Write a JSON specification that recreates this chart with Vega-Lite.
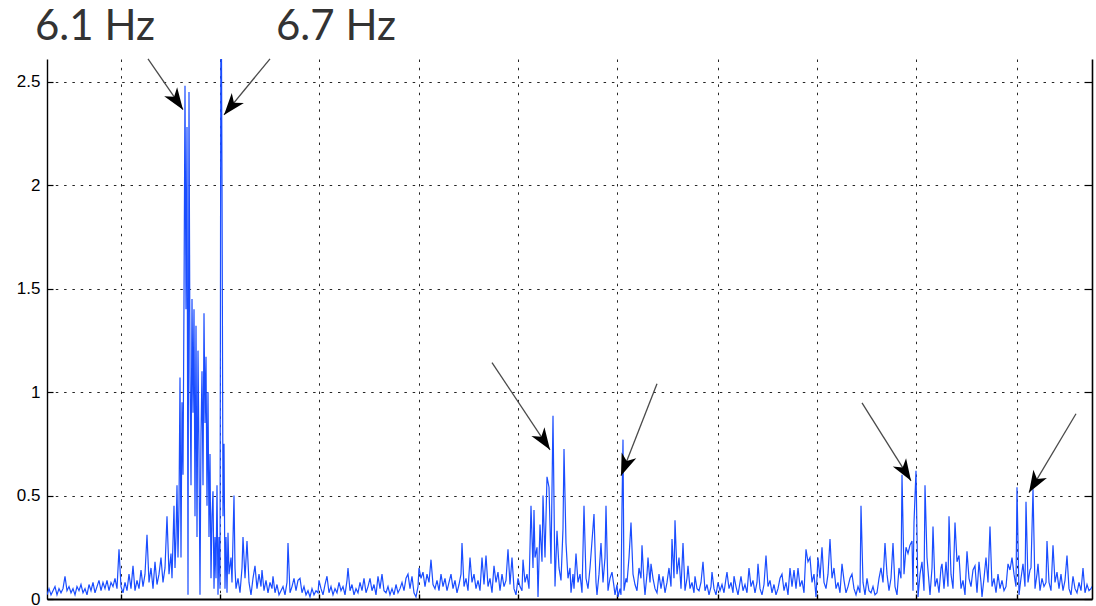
{
"$schema":"https://vega.github.io/schema/vega-lite/v6.json",
"width":1045,"height":540,
"autosize":{"type":"none"},
"padding":{"left":47,"top":59,"right":4,"bottom":7},
"background":"white",
"config":{"view":{"stroke":null}},
"datasets":{
"spectrum":[
{"f":0.25,"a":0.02},{"f":0.27,"a":0.05},{"f":0.29,"a":0.02},{"f":0.31,"a":0.04},{"f":0.33,"a":0.06},{"f":0.35,"a":0.02},{"f":0.37,"a":0.05},{"f":0.39,"a":0.03},{"f":0.41,"a":0.05},{"f":0.43,"a":0.11},{"f":0.45,"a":0.04},{"f":0.47,"a":0.06},{"f":0.49,"a":0.03},{"f":0.51,"a":0.05},{"f":0.53,"a":0.02},{"f":0.55,"a":0.06},{"f":0.57,"a":0.04},{"f":0.59,"a":0.07},{"f":0.61,"a":0.03},{"f":0.63,"a":0.05},{"f":0.65,"a":0.02},{"f":0.67,"a":0.07},{"f":0.69,"a":0.04},{"f":0.71,"a":0.08},{"f":0.73,"a":0.03},{"f":0.75,"a":0.06},{"f":0.77,"a":0.09},{"f":0.79,"a":0.04},{"f":0.81,"a":0.08},{"f":0.83,"a":0.05},{"f":0.85,"a":0.09},{"f":0.87,"a":0.04},{"f":0.89,"a":0.08},{"f":0.91,"a":0.06},{"f":0.93,"a":0.10},{"f":0.95,"a":0.05},{"f":0.97,"a":0.24},{"f":0.99,"a":0.06},
{"f":1.01,"a":0.03},{"f":1.03,"a":0.08},{"f":1.05,"a":0.04},{"f":1.07,"a":0.12},{"f":1.09,"a":0.05},{"f":1.11,"a":0.16},{"f":1.13,"a":0.04},{"f":1.15,"a":0.09},{"f":1.17,"a":0.05},{"f":1.19,"a":0.14},{"f":1.21,"a":0.06},{"f":1.23,"a":0.12},{"f":1.25,"a":0.31},{"f":1.27,"a":0.08},{"f":1.29,"a":0.15},{"f":1.31,"a":0.05},{"f":1.33,"a":0.18},{"f":1.35,"a":0.07},{"f":1.37,"a":0.12},{"f":1.39,"a":0.20},{"f":1.41,"a":0.08},{"f":1.43,"a":0.15},{"f":1.45,"a":0.40},{"f":1.47,"a":0.12},{"f":1.49,"a":0.22},{"f":1.50,"a":0.10},{"f":1.52,"a":0.45},{"f":1.53,"a":0.15},{"f":1.54,"a":0.30},{"f":1.55,"a":0.55},{"f":1.56,"a":0.20},{"f":1.57,"a":0.45},{"f":1.58,"a":1.07},{"f":1.59,"a":0.20},{"f":1.60,"a":0.95},{"f":1.61,"a":0.60},{"f":1.62,"a":1.45},{"f":1.63,"a":2.48},{"f":1.64,"a":1.40},{"f":1.65,"a":2.28},{"f":1.66,"a":0.02},{"f":1.67,"a":2.45},{"f":1.68,"a":1.10},{"f":1.69,"a":0.55},{"f":1.70,"a":1.45},{"f":1.71,"a":0.90},{"f":1.72,"a":1.40},{"f":1.73,"a":0.40},{"f":1.74,"a":1.32},{"f":1.75,"a":0.30},{"f":1.76,"a":1.20},{"f":1.77,"a":0.70},{"f":1.78,"a":0.02},{"f":1.79,"a":0.80},{"f":1.80,"a":1.10},{"f":1.81,"a":0.55},{"f":1.82,"a":1.38},{"f":1.83,"a":0.85},{"f":1.84,"a":1.17},{"f":1.85,"a":0.45},{"f":1.86,"a":1.00},{"f":1.87,"a":0.30},{"f":1.88,"a":0.70},{"f":1.89,"a":0.10},{"f":1.90,"a":0.40},{"f":1.91,"a":0.52},{"f":1.92,"a":0.05},{"f":1.93,"a":0.30},{"f":1.94,"a":0.10},{"f":1.95,"a":0.55},{"f":1.96,"a":0.02},{"f":1.97,"a":0.30},{"f":1.98,"a":0.05},{"f":1.99,"a":3.2},{"f":2.00,"a":2.03},{"f":2.01,"a":0.40},{"f":2.02,"a":0.75},{"f":2.03,"a":0.05},{"f":2.04,"a":0.30},{"f":2.05,"a":0.03},
{"f":2.06,"a":0.32},{"f":2.07,"a":0.12},{"f":2.09,"a":0.20},{"f":2.10,"a":0.08},{"f":2.12,"a":0.50},{"f":2.13,"a":0.15},{"f":2.14,"a":0.05},{"f":2.16,"a":0.10},{"f":2.18,"a":0.03},{"f":2.20,"a":0.15},{"f":2.21,"a":0.30},{"f":2.23,"a":0.10},{"f":2.25,"a":0.28},{"f":2.27,"a":0.08},{"f":2.29,"a":0.02},{"f":2.31,"a":0.10},{"f":2.33,"a":0.16},{"f":2.35,"a":0.05},{"f":2.37,"a":0.12},{"f":2.39,"a":0.06},{"f":2.40,"a":0.14},{"f":2.42,"a":0.04},{"f":2.44,"a":0.09},{"f":2.46,"a":0.03},{"f":2.48,"a":0.08},{"f":2.50,"a":0.05},{"f":2.51,"a":0.11},{"f":2.53,"a":0.03},{"f":2.55,"a":0.07},{"f":2.57,"a":0.02},{"f":2.59,"a":0.04},{"f":2.61,"a":0.06},{"f":2.63,"a":0.02},{"f":2.65,"a":0.08},{"f":2.66,"a":0.27},{"f":2.68,"a":0.03},{"f":2.70,"a":0.06},{"f":2.72,"a":0.10},{"f":2.74,"a":0.04},{"f":2.76,"a":0.09},{"f":2.78,"a":0.10},{"f":2.80,"a":0.03},{"f":2.82,"a":0.06},{"f":2.84,"a":0.02},{"f":2.86,"a":0.04},{"f":2.88,"a":0.01},{"f":2.90,"a":0.05},{"f":2.92,"a":0.02},{"f":2.94,"a":0.04},{"f":2.96,"a":0.03},{"f":2.97,"a":0.09},
{"f":2.99,"a":0.05},{"f":3.01,"a":0.02},{"f":3.03,"a":0.07},{"f":3.05,"a":0.11},{"f":3.07,"a":0.03},{"f":3.09,"a":0.06},{"f":3.11,"a":0.02},{"f":3.13,"a":0.05},{"f":3.15,"a":0.03},{"f":3.17,"a":0.08},{"f":3.19,"a":0.04},{"f":3.21,"a":0.06},{"f":3.23,"a":0.02},{"f":3.25,"a":0.09},{"f":3.26,"a":0.15},{"f":3.28,"a":0.04},{"f":3.30,"a":0.07},{"f":3.32,"a":0.02},{"f":3.34,"a":0.05},{"f":3.36,"a":0.03},{"f":3.38,"a":0.08},{"f":3.40,"a":0.04},{"f":3.42,"a":0.10},{"f":3.44,"a":0.03},{"f":3.46,"a":0.06},{"f":3.48,"a":0.10},{"f":3.50,"a":0.04},{"f":3.52,"a":0.07},{"f":3.54,"a":0.02},{"f":3.56,"a":0.11},{"f":3.58,"a":0.05},{"f":3.60,"a":0.12},{"f":3.62,"a":0.04},{"f":3.64,"a":0.03},{"f":3.66,"a":0.06},{"f":3.68,"a":0.02},{"f":3.70,"a":0.05},{"f":3.72,"a":0.02},{"f":3.74,"a":0.07},{"f":3.76,"a":0.03},{"f":3.78,"a":0.05},{"f":3.80,"a":0.08},{"f":3.82,"a":0.04},{"f":3.84,"a":0.10},{"f":3.86,"a":0.12},{"f":3.88,"a":0.05},{"f":3.90,"a":0.11},{"f":3.92,"a":0.03},{"f":3.94,"a":0.01},{"f":3.96,"a":0.06},{"f":3.97,"a":0.15},
{"f":3.99,"a":0.10},{"f":4.01,"a":0.13},{"f":4.03,"a":0.06},{"f":4.05,"a":0.12},{"f":4.07,"a":0.08},{"f":4.09,"a":0.19},{"f":4.11,"a":0.07},{"f":4.13,"a":0.05},{"f":4.15,"a":0.09},{"f":4.17,"a":0.04},{"f":4.19,"a":0.12},{"f":4.21,"a":0.06},{"f":4.23,"a":0.10},{"f":4.25,"a":0.04},{"f":4.27,"a":0.08},{"f":4.29,"a":0.12},{"f":4.31,"a":0.05},{"f":4.33,"a":0.09},{"f":4.35,"a":0.03},{"f":4.37,"a":0.07},{"f":4.39,"a":0.12},{"f":4.40,"a":0.27},{"f":4.42,"a":0.06},{"f":4.44,"a":0.10},{"f":4.46,"a":0.04},{"f":4.48,"a":0.20},{"f":4.50,"a":0.08},{"f":4.52,"a":0.12},{"f":4.54,"a":0.05},{"f":4.56,"a":0.09},{"f":4.58,"a":0.04},{"f":4.60,"a":0.20},{"f":4.62,"a":0.07},{"f":4.64,"a":0.21},{"f":4.66,"a":0.06},{"f":4.68,"a":0.10},{"f":4.70,"a":0.03},{"f":4.72,"a":0.16},{"f":4.74,"a":0.08},{"f":4.76,"a":0.13},{"f":4.78,"a":0.04},{"f":4.80,"a":0.12},{"f":4.82,"a":0.06},{"f":4.84,"a":0.09},{"f":4.86,"a":0.24},{"f":4.88,"a":0.07},{"f":4.90,"a":0.20},{"f":4.92,"a":0.05},{"f":4.94,"a":0.02},{"f":4.96,"a":0.10},{"f":4.98,"a":0.06},{"f":5.00,"a":0.04},{"f":5.01,"a":0.19},{"f":5.03,"a":0.08},{"f":5.05,"a":0.12},{"f":5.07,"a":0.05},
{"f":5.09,"a":0.45},{"f":5.11,"a":0.15},{"f":5.12,"a":0.43},{"f":5.13,"a":0.20},{"f":5.15,"a":0.25},{"f":5.16,"a":0.01},{"f":5.18,"a":0.36},{"f":5.20,"a":0.18},{"f":5.21,"a":0.50},{"f":5.23,"a":0.20},{"f":5.25,"a":0.59},{"f":5.27,"a":0.54},{"f":5.29,"a":0.17},{"f":5.31,"a":0.885},{"f":5.33,"a":0.06},{"f":5.35,"a":0.33},{"f":5.37,"a":0.15},{"f":5.39,"a":0.09},{"f":5.41,"a":0.34},{"f":5.42,"a":0.725},{"f":5.44,"a":0.27},{"f":5.46,"a":0.10},{"f":5.48,"a":0.15},{"f":5.49,"a":0.03},{"f":5.51,"a":0.12},{"f":5.52,"a":0.05},{"f":5.54,"a":0.22},{"f":5.56,"a":0.08},{"f":5.58,"a":0.12},{"f":5.60,"a":0.03},{"f":5.62,"a":0.45},{"f":5.64,"a":0.10},{"f":5.66,"a":0.05},{"f":5.68,"a":0.15},{"f":5.70,"a":0.28},{"f":5.72,"a":0.41},{"f":5.74,"a":0.08},{"f":5.75,"a":0.02},{"f":5.77,"a":0.12},{"f":5.79,"a":0.27},{"f":5.81,"a":0.08},{"f":5.83,"a":0.20},{"f":5.84,"a":0.45},{"f":5.86,"a":0.04},{"f":5.88,"a":0.10},{"f":5.90,"a":0.13},{"f":5.92,"a":0.06},{"f":5.93,"a":0.02},{"f":5.95,"a":0.07},{"f":5.96,"a":0.01},{"f":5.98,"a":0.05},{"f":5.99,"a":0.02},{"f":6.00,"a":0.45},{"f":6.01,"a":0.77},{"f":6.02,"a":0.04},{"f":6.04,"a":0.10},{"f":6.05,"a":0.08},{"f":6.07,"a":0.20},{"f":6.09,"a":0.37},{"f":6.11,"a":0.12},{"f":6.13,"a":0.07},{"f":6.15,"a":0.04},{"f":6.17,"a":0.15},{"f":6.19,"a":0.10},{"f":6.20,"a":0.26},{"f":6.22,"a":0.08},{"f":6.23,"a":0.02},{"f":6.25,"a":0.12},{"f":6.26,"a":0.20},{"f":6.28,"a":0.08},{"f":6.29,"a":0.17},{"f":6.31,"a":0.10},{"f":6.33,"a":0.05},{"f":6.35,"a":0.03},
{"f":6.37,"a":0.12},{"f":6.39,"a":0.05},{"f":6.41,"a":0.11},{"f":6.43,"a":0.03},{"f":6.45,"a":0.08},{"f":6.47,"a":0.15},{"f":6.49,"a":0.06},{"f":6.50,"a":0.29},{"f":6.52,"a":0.10},{"f":6.53,"a":0.38},{"f":6.55,"a":0.12},{"f":6.57,"a":0.20},{"f":6.59,"a":0.05},{"f":6.61,"a":0.27},{"f":6.63,"a":0.04},{"f":6.65,"a":0.10},{"f":6.66,"a":0.16},{"f":6.68,"a":0.05},{"f":6.70,"a":0.08},{"f":6.72,"a":0.03},{"f":6.73,"a":0.11},{"f":6.75,"a":0.05},{"f":6.77,"a":0.04},{"f":6.79,"a":0.08},{"f":6.81,"a":0.18},{"f":6.83,"a":0.04},{"f":6.85,"a":0.07},{"f":6.87,"a":0.02},{"f":6.89,"a":0.06},{"f":6.90,"a":0.13},{"f":6.92,"a":0.05},{"f":6.94,"a":0.02},{"f":6.96,"a":0.08},{"f":6.98,"a":0.04},{"f":7.00,"a":0.07},{"f":7.02,"a":0.03},{"f":7.04,"a":0.10},{"f":7.05,"a":0.13},{"f":7.07,"a":0.05},{"f":7.09,"a":0.08},{"f":7.11,"a":0.03},{"f":7.12,"a":0.11},{"f":7.14,"a":0.06},{"f":7.16,"a":0.02},{"f":7.18,"a":0.08},{"f":7.19,"a":0.11},{"f":7.21,"a":0.04},{"f":7.23,"a":0.07},{"f":7.25,"a":0.03},{"f":7.27,"a":0.15},{"f":7.29,"a":0.06},{"f":7.31,"a":0.09},{"f":7.33,"a":0.03},{"f":7.35,"a":0.08},{"f":7.36,"a":0.17},{"f":7.38,"a":0.05},{"f":7.40,"a":0.02},{"f":7.42,"a":0.07},{"f":7.44,"a":0.21},{"f":7.46,"a":0.06},{"f":7.48,"a":0.09},{"f":7.50,"a":0.03},{"f":7.52,"a":0.07},{"f":7.54,"a":0.02},{"f":7.56,"a":0.05},{"f":7.58,"a":0.10},{"f":7.60,"a":0.12},{"f":7.62,"a":0.04},{"f":7.64,"a":0.08},{"f":7.66,"a":0.02},{"f":7.68,"a":0.15},{"f":7.70,"a":0.06},{"f":7.72,"a":0.14},{"f":7.74,"a":0.05},{"f":7.76,"a":0.15},{"f":7.78,"a":0.06},{"f":7.80,"a":0.09},{"f":7.82,"a":0.03},{"f":7.84,"a":0.24},{"f":7.86,"a":0.18},{"f":7.88,"a":0.20},{"f":7.90,"a":0.08},{"f":7.92,"a":0.12},{"f":7.94,"a":0.01},{"f":7.96,"a":0.20},{"f":7.98,"a":0.10},{"f":8.00,"a":0.25},{"f":8.02,"a":0.08},{"f":8.04,"a":0.05},{"f":8.06,"a":0.12},{"f":8.08,"a":0.29},{"f":8.10,"a":0.10},{"f":8.12,"a":0.15},{"f":8.14,"a":0.05},{"f":8.16,"a":0.08},{"f":8.18,"a":0.03},{"f":8.20,"a":0.17},{"f":8.22,"a":0.09},{"f":8.24,"a":0.03},{"f":8.26,"a":0.06},{"f":8.28,"a":0.10},{"f":8.30,"a":0.12},{"f":8.32,"a":0.05},{"f":8.34,"a":0.02},{"f":8.36,"a":0.06},{"f":8.38,"a":0.03},{"f":8.39,"a":0.45},{"f":8.41,"a":0.08},
{"f":8.43,"a":0.02},{"f":8.45,"a":0.10},{"f":8.47,"a":0.04},{"f":8.49,"a":0.03},{"f":8.51,"a":0.06},{"f":8.53,"a":0.02},{"f":8.55,"a":0.03},{"f":8.57,"a":0.10},{"f":8.59,"a":0.15},{"f":8.61,"a":0.08},{"f":8.63,"a":0.27},{"f":8.65,"a":0.12},{"f":8.67,"a":0.04},{"f":8.69,"a":0.10},{"f":8.71,"a":0.27},{"f":8.73,"a":0.06},{"f":8.75,"a":0.02},{"f":8.77,"a":0.15},{"f":8.79,"a":0.10},{"f":8.80,"a":0.60},{"f":8.82,"a":0.12},{"f":8.84,"a":0.25},{"f":8.86,"a":0.22},{"f":8.88,"a":0.26},{"f":8.90,"a":0.28},{"f":8.91,"a":0.04},{"f":8.92,"a":0.37},{"f":8.94,"a":0.62},{"f":8.96,"a":0.01},{"f":8.98,"a":0.12},{"f":9.00,"a":0.18},{"f":9.02,"a":0.04},{"f":9.03,"a":0.55},{"f":9.05,"a":0.20},{"f":9.07,"a":0.08},{"f":9.08,"a":0.02},{"f":9.10,"a":0.15},{"f":9.11,"a":0.35},{"f":9.13,"a":0.06},{"f":9.15,"a":0.10},{"f":9.17,"a":0.03},{"f":9.19,"a":0.15},{"f":9.20,"a":0.17},{"f":9.22,"a":0.05},{"f":9.24,"a":0.18},{"f":9.26,"a":0.06},{"f":9.27,"a":0.40},{"f":9.29,"a":0.12},{"f":9.31,"a":0.05},{"f":9.33,"a":0.37},{"f":9.35,"a":0.18},{"f":9.37,"a":0.21},{"f":9.39,"a":0.05},{"f":9.41,"a":0.09},{"f":9.43,"a":0.02},{"f":9.45,"a":0.23},{"f":9.47,"a":0.10},{"f":9.49,"a":0.06},{"f":9.51,"a":0.14},{"f":9.53,"a":0.16},{"f":9.55,"a":0.03},{"f":9.57,"a":0.18},{"f":9.59,"a":0.08},{"f":9.60,"a":0.01},{"f":9.62,"a":0.10},{"f":9.64,"a":0.20},{"f":9.66,"a":0.08},{"f":9.68,"a":0.35},{"f":9.70,"a":0.06},{"f":9.72,"a":0.10},{"f":9.74,"a":0.03},{"f":9.76,"a":0.12},{"f":9.78,"a":0.05},{"f":9.80,"a":0.09},{"f":9.82,"a":0.04},{"f":9.84,"a":0.06},{"f":9.86,"a":0.17},{"f":9.88,"a":0.14},{"f":9.90,"a":0.20},{"f":9.92,"a":0.12},{"f":9.94,"a":0.06},{"f":9.95,"a":0.54},{"f":9.97,"a":0.02},{"f":9.99,"a":0.10},{"f":10.01,"a":0.17},{"f":10.03,"a":0.06},{"f":10.04,"a":0.47},{"f":10.06,"a":0.08},{"f":10.08,"a":0.14},{"f":10.09,"a":0.15},{"f":10.11,"a":0.53},{"f":10.13,"a":0.05},{"f":10.15,"a":0.12},{"f":10.16,"a":0.17},{"f":10.18,"a":0.04},{"f":10.20,"a":0.10},{"f":10.22,"a":0.06},{"f":10.24,"a":0.08},{"f":10.25,"a":0.28},{"f":10.27,"a":0.08},{"f":10.29,"a":0.04},{"f":10.31,"a":0.26},{"f":10.33,"a":0.08},{"f":10.35,"a":0.13},{"f":10.37,"a":0.05},{"f":10.39,"a":0.12},{"f":10.41,"a":0.04},{"f":10.43,"a":0.09},{"f":10.45,"a":0.21},{"f":10.47,"a":0.05},{"f":10.49,"a":0.02},{"f":10.51,"a":0.11},{"f":10.53,"a":0.05},{"f":10.55,"a":0.03},{"f":10.57,"a":0.08},{"f":10.59,"a":0.04},{"f":10.61,"a":0.15},{"f":10.63,"a":0.03},{"f":10.65,"a":0.07},{"f":10.67,"a":0.04},{"f":10.69,"a":0.05},{"f":10.70,"a":0.06}
],
"arrows":[
{"f0":1.26,"a0":2.61,"f1":1.61,"a1":2.364,"heading":145.5},
{"f0":2.48,"a0":2.61,"f1":2.02,"a1":2.339,"heading":219.4},
{"f0":4.70,"a0":1.142,"f1":5.28,"a1":0.721,"heading":146.3},
{"f0":6.35,"a0":1.040,"f1":5.99,"a1":0.596,"heading":201.4},
{"f0":8.40,"a0":0.948,"f1":8.89,"a1":0.571,"heading":147.9},
{"f0":10.54,"a0":0.895,"f1":10.07,"a1":0.514,"heading":210.7}
],
"notes":[
{"f":0.13,"a":2.702,"label":"6.1 Hz"},
{"f":2.54,"a":2.702,"label":"6.7 Hz"}
]
},
"layer":[
{"data":{"name":"spectrum"},
 "mark":{"type":"line","color":"#1a4dff","strokeWidth":1.2,"clip":true},
 "encoding":{
  "x":{"field":"f","type":"quantitative","scale":{"domain":[0.25,10.7],"nice":false,"zero":false},
   "axis":{"values":[0.987,1.98,2.973,3.97,4.957,5.953,6.957,7.945,8.94,9.947],"labels":false,"title":null,"grid":true,"gridColor":"#000","gridDash":[2.5,5.8],"gridOpacity":0.85,"domainColor":"#000","domainWidth":1.8,"tickColor":"#000","tickSize":-5,"tickWidth":1.4}},
  "y":{"field":"a","type":"quantitative","scale":{"domain":[0,2.609],"nice":false},
   "axis":{"values":[0,0.5,1,1.5,2,2.5],"format":"~g","title":null,"grid":true,"gridColor":"#000","gridDash":[2.5,5.8],"gridOpacity":0.85,"domainColor":"#000","domainWidth":1.4,"tickColor":"#000","tickSize":-6,"tickWidth":1.2,"labelFont":"Liberation Sans","labelFontSize":17,"labelColor":"#000","labelPadding":13}}
 }},
{"data":{"name":"arrows"},
 "mark":{"type":"rule","color":"#4a4a4a","strokeWidth":1.3},
 "encoding":{
  "x":{"field":"f0","type":"quantitative","scale":{"domain":[0.25,10.7],"nice":false,"zero":false},
   "axis":{"values":[0.987,1.98,2.973,3.97,4.957,5.953,6.957,7.945,8.94,9.947],"labels":false,"title":null,"grid":true,"gridColor":"#000","gridDash":[2.5,5.8],"gridOpacity":0.85,"domainColor":"#000","domainWidth":1.8,"tickColor":"#000","tickSize":-5,"tickWidth":1.4}},
  "y":{"field":"a0","type":"quantitative","scale":{"domain":[0,2.609],"nice":false},"axis":null},
  "x2":{"field":"f1"},"y2":{"field":"a1"}
 }},
{"data":{"name":"arrows"},
 "mark":{"type":"point","shape":"M0,0 L0.36,1 L0,0.72 L-0.36,1 Z","filled":true,"color":"#000","opacity":1,"size":1900,"strokeWidth":0},
 "encoding":{
  "x":{"field":"f1","type":"quantitative","scale":{"domain":[0.25,10.7],"nice":false,"zero":false},
   "axis":{"values":[0.987,1.98,2.973,3.97,4.957,5.953,6.957,7.945,8.94,9.947],"labels":false,"title":null,"grid":true,"gridColor":"#000","gridDash":[2.5,5.8],"gridOpacity":0.85,"domainColor":"#000","domainWidth":1.8,"tickColor":"#000","tickSize":-5,"tickWidth":1.4}},
  "y":{"field":"a1","type":"quantitative","scale":{"domain":[0,2.609],"nice":false},"axis":null},
  "angle":{"field":"heading","type":"quantitative","scale":null}
 }},
{"data":{"name":"notes"},
 "mark":{"type":"text","align":"left","baseline":"alphabetic","font":"Lato","fontSize":42,"color":"#333333"},
 "encoding":{
  "x":{"field":"f","type":"quantitative","scale":{"domain":[0.25,10.7],"nice":false,"zero":false},
   "axis":{"values":[0.987,1.98,2.973,3.97,4.957,5.953,6.957,7.945,8.94,9.947],"labels":false,"title":null,"grid":true,"gridColor":"#000","gridDash":[2.5,5.8],"gridOpacity":0.85,"domainColor":"#000","domainWidth":1.8,"tickColor":"#000","tickSize":-5,"tickWidth":1.4}},
  "y":{"field":"a","type":"quantitative","scale":{"domain":[0,2.609],"nice":false},"axis":null},
  "text":{"field":"label","type":"nominal"}
 }},
{"data":{"name":"spectrum"},
 "mark":{"type":"line","strokeOpacity":0},
 "encoding":{
  "x":{"field":"f","type":"quantitative","scale":{"domain":[0.25,10.7],"nice":false,"zero":false},
   "axis":{"values":[0.987,1.98,2.973,3.97,4.957,5.953,6.957,7.945,8.94,9.947],"labels":false,"title":null,"grid":true,"gridColor":"#000","gridDash":[2.5,5.8],"gridOpacity":0.85,"domainColor":"#000","domainWidth":1.8,"tickColor":"#000","tickSize":-5,"tickWidth":1.4}},
  "y":{"field":"a","type":"quantitative","scale":{"domain":[0,2.609],"nice":false},
   "axis":{"orient":"right","values":[0,0.5,1,1.5,2,2.5],"labels":false,"title":null,"grid":false,"domainColor":"#000","domainWidth":1.6,"tickColor":"#000","tickSize":-8,"tickWidth":1.2}}
 }}
],
"resolve":{"axis":{"y":"independent"}}
}
